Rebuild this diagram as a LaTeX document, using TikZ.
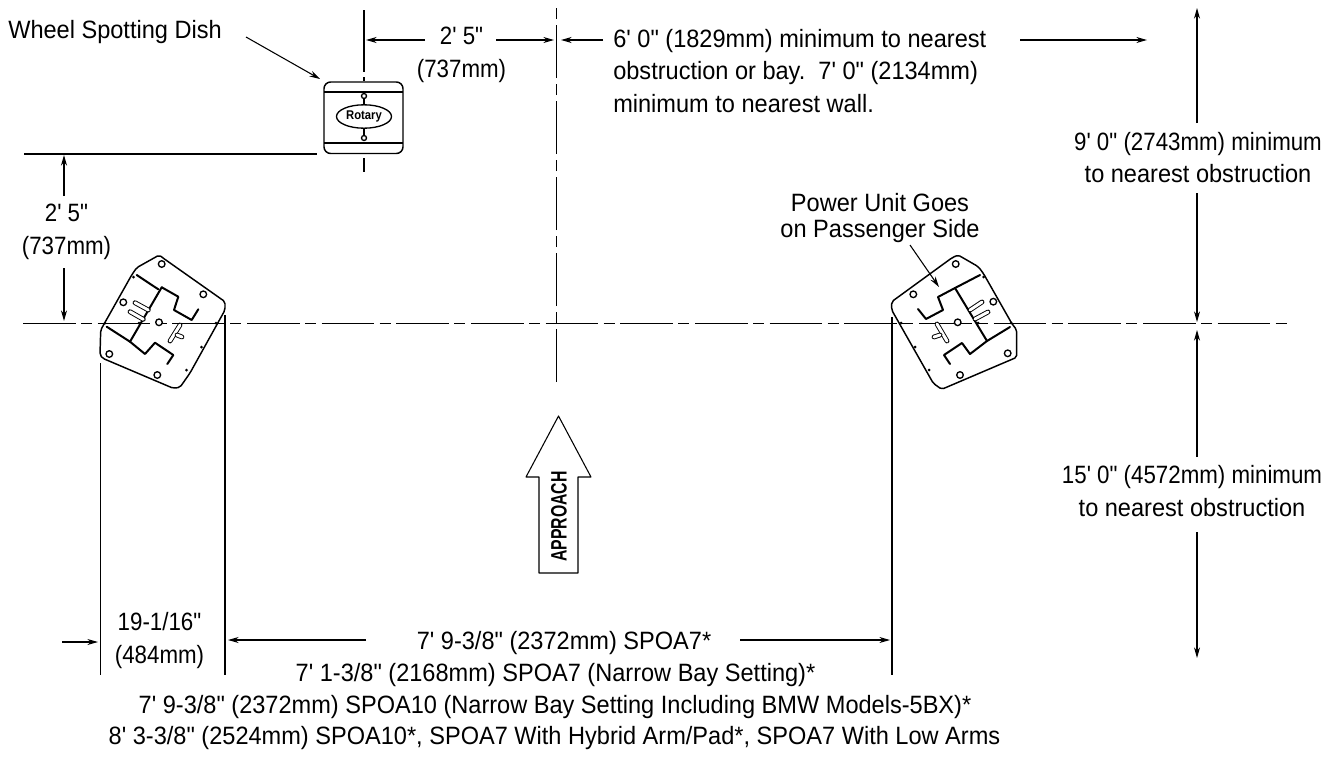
\documentclass[tikz,border=0pt]{standalone}
\usepackage{fontspec}
\usepackage{tikz}
\usetikzlibrary{arrows.meta}
\newfontfamily\labelfont[FakeStretch=0.94]{Liberation Sans}
\newfontfamily\dimfont[FakeStretch=0.89]{Liberation Sans}
\newfontfamily\approachfont[FakeStretch=0.71]{Liberation Sans}
\newcommand{\labelsize}{\fontsize{18.8}{24.5}\selectfont}
\newcommand{\figtext}[1]{{\dimfont\labelsize #1}}
\tikzset{
    dim/.style={line width=0.8pt,-{Stealth[length=8pt,width=4.5pt]}},
    ext/.style={line width=0.9pt},
    centre/.style={line width=0.7pt,dash pattern=on 39.5pt off 4pt on 8.3pt off 4.2pt},
    plate/.style={line width=1.1pt,line join=round,rounded corners=1.5pt},
    rib/.style={line width=1.5pt,line join=round,line cap=round},
    slot/.style={double,double distance=2.2pt,line width=0.7pt,line cap=round},
    hole/.style={line width=1pt,fill=white}
}
\begin{document}
\begin{tikzpicture}[x=0.75pt,y=-0.75pt]
\useasboundingbox (0,0) rectangle (1338,757);
% centre lines go first so the labels sit on top
\draw[centre] (23,323) -- (1287,323);
\draw[centre,dash pattern=on 39.75pt off 4.5pt on 8.25pt off 4.5pt] (556,382) -- (556,6);

\begin{scope}[every node/.style={font=\labelfont\labelsize,inner sep=0pt,align=center}]
    % texts
    \node[anchor=west] (dish) at (8,32) {Wheel Spotting Dish};
    \node (dishgap) at (461.5,55) {\figtext{2' 5"}\\\figtext{(737mm)}};
    \node[anchor=west,align=left] (bay) at (613,71) {6' 0" (1829mm) minimum to nearest\\obstruction or bay.\ \ 7' 0" (2134mm)\\minimum to nearest wall.};
    \node (rear) at (1198,157.5) {\figtext{9' 0" (2743mm) minimum}\\to nearest obstruction};
    \node (power) at (880,218) {Power Unit Goes\\[-5pt]on Passenger Side};
    \node (sidegap) at (66.5,232) {\figtext{2' 5"}\\\figtext{(737mm)}};
    \node (front) at (1192,491) {\figtext{15' 0" (4572mm) minimum}\\to nearest obstruction};
    \node (platew) at (159.5,640.5) {\figtext{19-1/16"}\\\figtext{(484mm)}};
    \node (bayA) at (564,643) {7' 9-3/8" (2372mm) SPOA7*};
    \node (bayB) at (555.5,675) {7' 1-3/8" (2168mm) SPOA7 (Narrow Bay Setting)*};
    \node (bayC) at (555,707) {7' 9-3/8" (2372mm) SPOA10 (Narrow Bay Setting Including BMW Models-5BX)*};
    \node (bayD) at (554.5,738) {8' 3-3/8" (2524mm) SPOA10*, SPOA7 With Hybrid Arm/Pad*, SPOA7 With Low Arms};
    \node[rotate=90,font=\approachfont\bfseries\fontsize{16.7}{18}\selectfont] (approach) at (559,516.5) {APPROACH};
\end{scope}

% free ends of the dimension arrows
\coordinate (a1) at (246,37);   \coordinate (a2) at (320,79);
\coordinate (b1) at (425,40);   \coordinate (b2) at (366,40);
\coordinate (c1) at (496,40);   \coordinate (c2) at (554,40);
\coordinate (d1) at (603,40);   \coordinate (d2) at (561,40);
\coordinate (e1) at (1020,40);  \coordinate (e2) at (1147,40);
\coordinate (f1) at (1197,123); \coordinate (f2) at (1197,8);
\coordinate (g1) at (1197,193); \coordinate (g2) at (1197,322);
\coordinate (h1) at (1197,457); \coordinate (h2) at (1197,330);
\coordinate (i1) at (1197,532); \coordinate (i2) at (1197,658);
\coordinate (j1) at (64,196);   \coordinate (j2) at (64,155);
\coordinate (k1) at (64,268);   \coordinate (k2) at (64,321);
\coordinate (l1) at (62,642);   \coordinate (l2) at (98,642);
\coordinate (m1) at (366,640);  \coordinate (m2) at (228,640);
\coordinate (n1) at (740,640);  \coordinate (n2) at (890,640);
\coordinate (o1) at (910,245);  \coordinate (o2) at (939,287);
\draw[dim] (a1) -- (a2);
\draw[dim] (b1) -- (b2);
\draw[dim] (c1) -- (c2);
\draw[dim] (d1) -- (d2);
\draw[dim] (e1) -- (e2);
\draw[dim] (f1) -- (f2);
\draw[dim] (g1) -- (g2);
\draw[dim] (h1) -- (h2);
\draw[dim] (i1) -- (i2);
\draw[dim] (j1) -- (j2);
\draw[dim] (k1) -- (k2);
\draw[dim] (l1) -- (l2);
\draw[dim] (m1) -- (m2);
\draw[dim] (n1) -- (n2);

% extension lines
\draw[ext] (24,154) -- (317,154);
\draw[ext] (364,10) -- (364,72);
\draw[ext] (364,77) -- (364,81);
\draw[ext] (364,158) -- (364,172);
\draw[ext] (100.5,363) -- (100.5,675);
\draw[ext] (225,315) -- (225,675);
\draw[ext] (892,317) -- (892,675);

% dish
\draw[plate,rounded corners=5pt,fill=white] (324,82) rectangle (403,153.5);
\draw[line width=0.8pt] (324,92) -- (403,92);
\draw[line width=0.8pt] (324,143) -- (403,143);
\draw[ext] (364,96) -- (364,138);
\draw[line width=1pt,fill=white] (364,116.5) ellipse (27.5 and 11.7);
\draw[hole] (364,96) circle (2.5);
\draw[hole] (364,138) circle (2.5);
\node[inner sep=0pt,font=\dimfont\bfseries\fontsize{9.5}{10}\selectfont] (logo) at (364,116) {Rotary};

% left plate
\draw[plate] (131.7,275) -- (136.7,267.7) -- (159.3,255) -- (163,258) -- (225,301.7) -- (225,310) -- (190,373) -- (180,387.3) -- (173.3,388.3) -- (102.7,358.3) -- (100,355) -- (100.7,330) -- cycle;
\draw[rib] (136.7,275) -- (158.3,289.3);
\draw[rib] (161.7,287.3) -- (130,341.7);
\draw[rib] (106.7,326.7) -- (130,341.7) -- (145,354) -- (155,342.7) -- (173.3,355) -- (167.3,364);
\draw[rib] (161.7,287.3) -- (178.3,296.7) -- (174,310) -- (191.7,320) -- (198.3,309.3);
\draw[slot] (135,302.7) -- (148.3,310);
\draw[slot] (130,311.7) -- (143.3,319.3);
\draw[slot] (170,341) -- (180,325);
\draw[slot] (177,335) -- (182,337);
\draw[hole] (161.7,264) circle (3.3);
\draw[hole] (203.3,294.3) circle (3.3);
\draw[hole] (123.3,302.3) circle (3.3);
\draw[hole] (109.3,354) circle (3.3);
\draw[hole] (157.3,375) circle (3.3);
\draw[hole] (159,322.3) circle (3.3);
\fill (133.5,277) circle (1.5) (105,323) circle (1.5) (139,323) circle (1.5) (216,323) circle (1.5) (201.5,347) circle (1.5) (186.5,370) circle (1.5);

% right plate
\draw[plate] (891.7,301.7) -- (891.7,310) -- (933.3,383.3) -- (941.7,389.3) -- (1016.7,357.3) -- (1016.7,330) -- (1011.7,323.3) -- (983.3,273.3) -- (978.3,266.7) -- (965,259) -- (958,255) -- (951.7,258) -- cycle;
\draw[rib] (980,275) -- (955,288);
\draw[rib] (955,288) -- (987,341);
\draw[rib] (1010,327) -- (987,341) -- (970,354) -- (962,343) -- (944,355) -- (950,364);
\draw[rib] (955,288) -- (938,297) -- (943,310) -- (926,319) -- (918,309);
\draw[slot] (970,310) -- (982,302);
\draw[slot] (975,319) -- (988,312);
\draw[slot] (947,341) -- (937,324);
\draw[slot] (934,337) -- (940,335);
\draw[hole] (955.7,264) circle (3.3);
\draw[hole] (913.3,294.3) circle (3.3);
\draw[hole] (993.3,301.7) circle (3.3);
\draw[hole] (1007.7,353.3) circle (3.3);
\draw[hole] (960,375) circle (3.3);
\draw[hole] (957.7,322.3) circle (3.3);
\fill (983.5,277) circle (1.5) (901,323) circle (1.5) (978,323) circle (1.5) (1011,323) circle (1.5) (915,347) circle (1.5) (929,370) circle (1.5);
\draw[dim] (o1) -- (o2);

% approach arrow
\draw[line width=0.8pt,line join=round] (558.5,416) -- (591,477) -- (578,477) -- (578,573) -- (539,573) -- (539,477) -- (526,477) -- cycle;
\end{tikzpicture}
\end{document}
